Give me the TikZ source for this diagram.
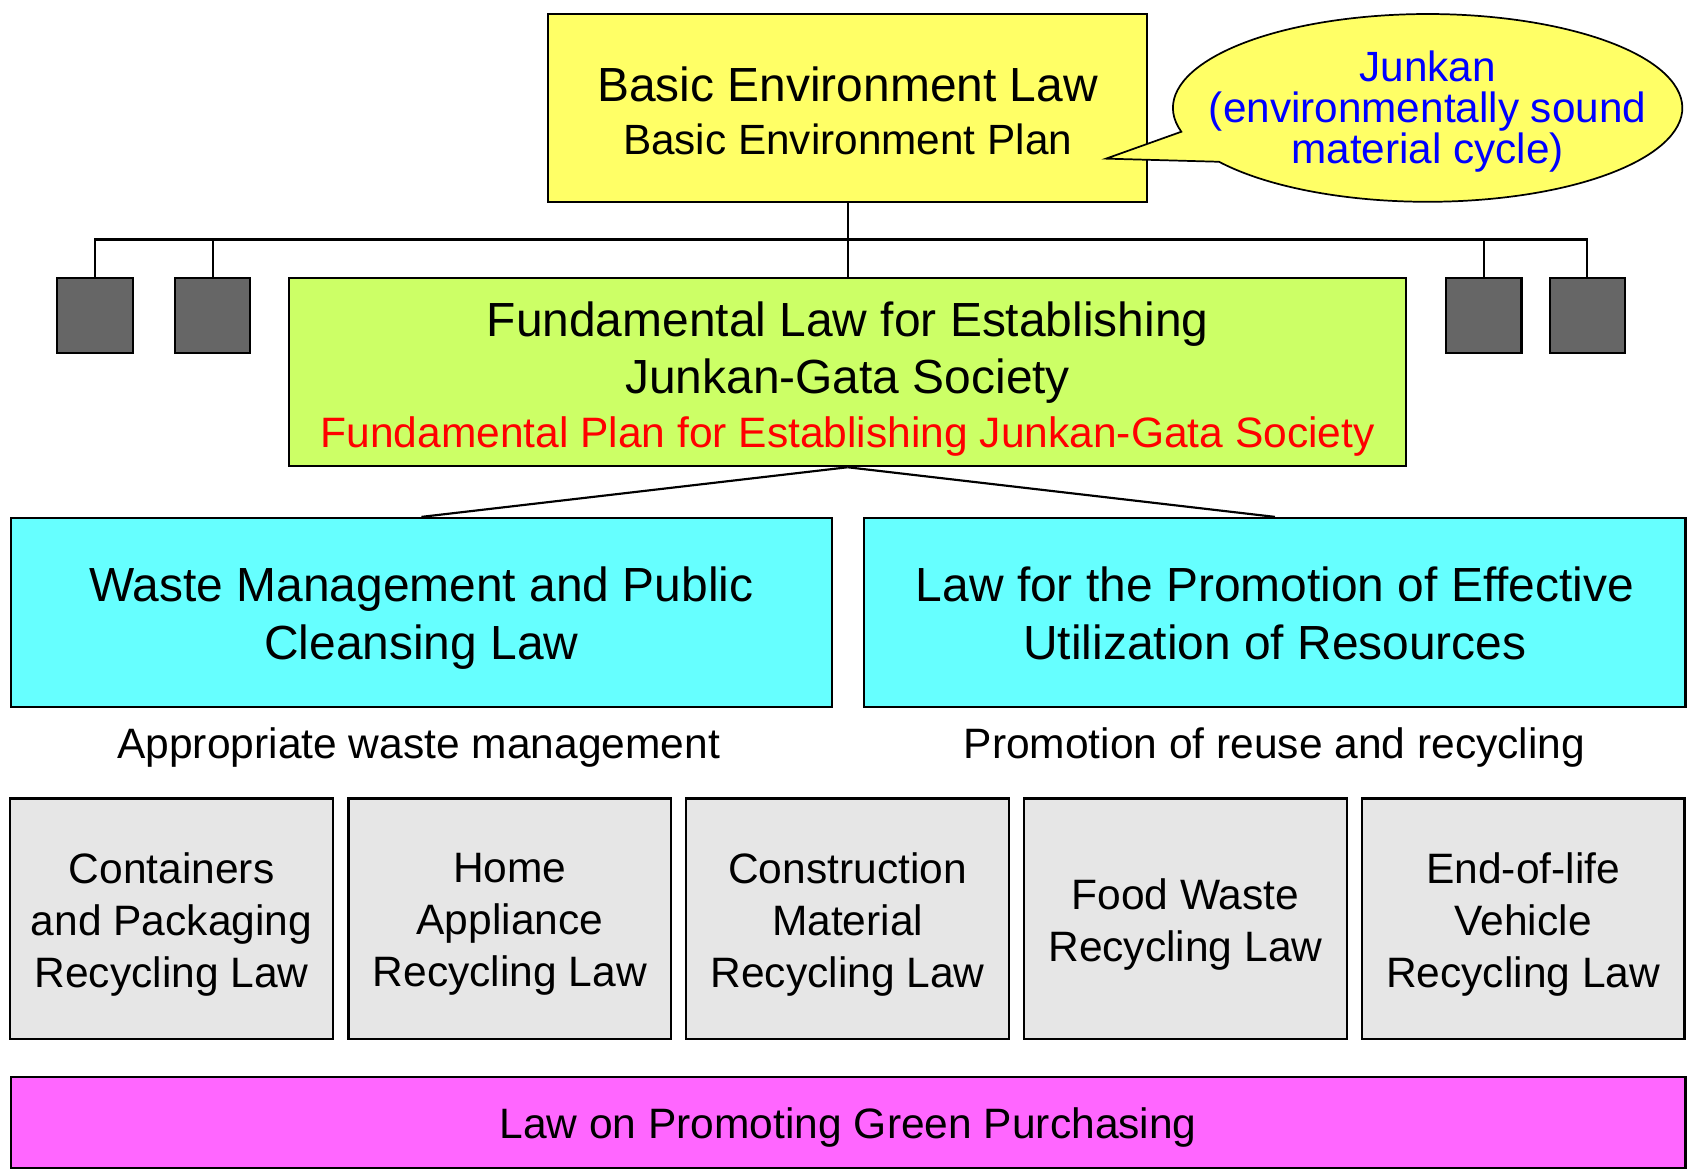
\documentclass[tikz,border=0pt]{standalone}
\usepackage{fontspec}
\setmainfont{Liberation Sans}
\usetikzlibrary{shapes.geometric,calc}
\definecolor{yel}{HTML}{FFFF66}
\definecolor{lime}{HTML}{CCFF66}
\definecolor{cyanb}{HTML}{66FFFF}
\definecolor{dgray}{HTML}{666666}
\definecolor{lgray}{HTML}{E6E6E6}
\definecolor{mag}{HTML}{FF66FF}
\begin{document}
\begin{tikzpicture}[x=0.5pt,y=-0.5pt,
  box/.style={draw=black,line width=1pt,inner sep=0pt,align=center},
  txt/.style={inner sep=0pt,align=center},
  big/.style={font=\fontsize{22.2}{27}\selectfont},
  small/.style={font=\fontsize{19.7}{24}\selectfont},
  conn/.style={draw=black,line width=1pt}]
\useasboundingbox (0,0) rectangle (1568,1089);
% top box
\node[box,fill=yel,minimum width=277.5pt,minimum height=87pt] (bel) at (785.5,100) {};
\node[txt,font=\fontsize{19.6}{24.5}\selectfont] (belt) at (785.5,103)
  {{\fontsize{22.2}{24.5}\selectfont Basic Environment Law}\\Basic Environment Plan};
% callout
\coordinate (tip) at (1025,147);
\coordinate (ec) at (1323,100);
\draw[line width=0.8pt,fill=yel] (tip) -- ($(ec)+(165.3:236 and 87)$)
  arc[start angle=165.3,end angle=505,x radius=236,y radius=87] -- cycle;
\node[txt,text=blue,font=\fontsize{19.6}{19}\selectfont] (junkan) at (1323,103)
  {Junkan\\(environmentally sound\\material cycle)};
% fundamental
\node[box,fill=lime,minimum width=517.5pt,minimum height=87pt] (fund) at (785.5,345) {};
\node[txt,font=\fontsize{22.2}{26.5}\selectfont] (fundt) at (785.5,351)
  {Fundamental Law for Establishing\\Junkan-Gata Society\\[-1.5pt]
   {\fontsize{19.7}{25}\selectfont\color{red}Fundamental Plan for Establishing Junkan-Gata Society}};
% small squares
\foreach \n/\cx in {s1/88,s2/197,s3/1375,s4/1471}{
  \node[box,fill=dgray,minimum width=35pt,minimum height=34.5pt] (\n) at (\cx,292.5) {};
}
% connectors top
\coordinate (bus) at (785.5,222);
\draw[conn] (bel.south) -- (fund.north);
\draw[conn] (s1.north) |- (bus) -| (s4.north);
\draw[conn] (s2.north) -- (s2.north |- bus);
\draw[conn] (s3.north) -- (s3.north |- bus);
% cyan boxes
\node[box,fill=cyanb,minimum width=380.5pt,minimum height=87.5pt] (waste) at (390.5,567.5) {};
\node[txt,big] (wastet) at (390.5,572.5) {Waste Management and Public\\Cleansing Law};
\node[box,fill=cyanb,minimum width=380.5pt,minimum height=87.5pt] (res) at (1181.5,567.5) {};
\node[txt,big] (rest) at (1181.5,568.5) {Law for the Promotion of Effective\\Utilization of Resources};
\draw[conn] (fund.south) -- (waste.north);
\draw[conn] (fund.south) -- (res.north);
% labels
\node[small] (l1) at (388,693) {Appropriate waste management};
\node[small] (l2) at (1181,693) {Promotion of reuse and recycling};
% gray boxes
\foreach \n/\cx/\t in {g1/159/{Containers\\and Packaging\\Recycling Law},
  g2/472.5/{Home\\Appliance\\Recycling Law},
  g3/785.5/{Construction\\Material\\Recycling Law},
  g4/1098.5/{Food Waste\\Recycling Law},
  g5/1411.5/{End-of-life\\Vehicle\\Recycling Law}}{
  \node[box,fill=lgray,minimum width=149.5pt,minimum height=111.5pt] (\n) at (\cx,851.5) {};
  \node[txt,small] (\n t) at (\cx,856.5) {\t};
}
% magenta
\node[box,fill=mag,minimum width=776pt,minimum height=42pt] (green) at (786,1040) {};
\node[txt,small] (greent) at (786,1044.5) {Law on Promoting Green Purchasing};
\end{tikzpicture}
\end{document}
